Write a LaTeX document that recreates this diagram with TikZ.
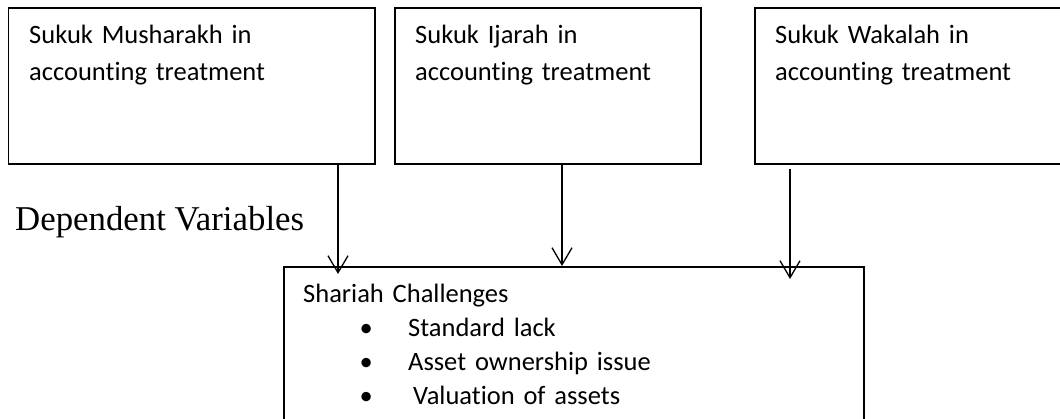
\documentclass[tikz,border=0pt]{standalone}
\usepackage{fontspec}
\setmainfont{Carlito}[Ligatures=NoCommon]
\newfontfamily\headfont{Liberation Serif}
\usetikzlibrary{arrows.meta}
\begin{document}
\begin{tikzpicture}[
x=1pt, y=-1pt,
squarednode/.style={rectangle, draw=black, line width=1.8pt, anchor=north west, minimum height=155.5pt, inner sep=0pt},
textnode/.style={anchor=base west, inner sep=0pt, align=left, text width=340pt, font=\fontsize{26.5}{37}\selectfont},
to/.style={-{Straight Barb[length=17pt, width=20pt]}, line width=1.3pt},
]
\useasboundingbox (0,0) rectangle (1060,419);
%nodes
\node[squarednode, minimum width=366.5pt](e1) at (7.5, 7.5) {};
\node[squarednode, minimum width=306pt](e2) at (394, 7.5) {};
\node[squarednode, minimum width=320pt](e3) at (754, 7.5) {};
\node[squarednode, minimum width=580pt, minimum height=170pt](p) at (283, 266.5) {};
\node[textnode](t1) at (29, 44) {Sukuk Musharakh in\\accounting treatment};
\node[textnode](t2) at (415, 44) {Sukuk Ijarah in\\accounting treatment};
\node[textnode](t3) at (775, 44) {Sukuk Wakalah in\\accounting treatment};
\node[textnode, text width=540pt, font=\fontsize{26.5}{33.7}\selectfont](tp) at (303, 303) {Shariah Challenges\\
\hspace*{63pt}\makebox[0pt]{\textbullet}\hspace*{42pt}Standard lack\\
\hspace*{63pt}\makebox[0pt]{\textbullet}\hspace*{42pt}Asset ownership issue\\
\hspace*{63pt}\makebox[0pt]{\textbullet}\hspace*{47pt}Valuation of assets};
\node[anchor=base west, inner sep=0pt, font=\headfont\fontsize{34.8}{40}\selectfont](dep) at (15, 231) {Dependent Variables};
%connections
\coordinate (a1) at (338, 274);
\coordinate (a2) at (562, 266);
\coordinate (a3) at (790, 279);
\draw[to] (e1.south -| a1) -- (a1);
\draw[to] (e2.south -| a2) -- (a2);
\draw[to, shorten <=4pt] (e3.south -| a3) -- (a3);
\end{tikzpicture}
\end{document}
